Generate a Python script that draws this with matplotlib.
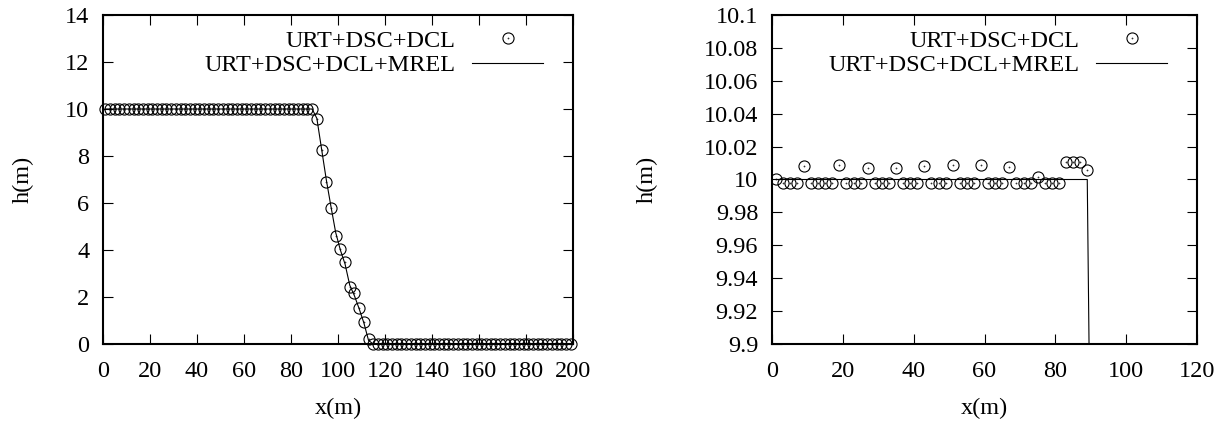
import matplotlib
matplotlib.use("Agg")
import matplotlib.pyplot as plt
import matplotlib.path as mpath
from matplotlib.ticker import FuncFormatter
import numpy as np

# cell centres (dx = 2 m)
x = np.arange(1, 200, 2)

# URT+DSC+DCL (circles)
h_plateau = [10.000, 9.998, 9.998, 9.998, 10.0085,
             9.998, 9.998, 9.998, 9.998, 10.009,
             9.998, 9.998, 9.998, 10.0067,
             9.998, 9.998, 9.998, 10.0071,
             9.998, 9.998, 9.998, 10.008,
             9.998, 9.998, 9.998, 10.0087,
             9.998, 9.998, 9.998, 10.0087,
             9.998, 9.998, 9.998, 10.0077,
             9.998, 9.998, 9.998, 10.0014,
             9.9978, 9.9978, 9.9978,
             10.0107, 10.0107, 10.0107, 10.0059]
h_front = [9.56, 8.26, 6.88, 5.77, 4.60, 4.03, 3.49, 2.41, 2.16, 1.52, 0.95, 0.20]
h_dry = [0.0] * 43
h_dcl = np.array(h_plateau + h_front + h_dry)

# URT+DSC+DCL+MREL (line)
m_plateau = [10.0] * 45
m_front = [9.6, 8.3, 7.0, 5.85, 4.75, 4.0, 3.4, 2.5, 2.05, 1.5, 0.9, 0.15]
m_dry = [0.0] * 43
h_mrel = np.array(m_plateau + m_front + m_dry)

label1 = "URT+DSC+DCL"
label2 = "URT+DSC+DCL+MREL"

plt.rcParams['font.family'] = ['Liberation Serif', 'DejaVu Serif']
fs = 17.5

# circle with a dot in the middle
dotcircle = mpath.Path.make_compound_path(mpath.Path.unit_circle(),
                                          mpath.Path.circle((0, 0), 0.05))

fig = plt.figure(figsize=(12.28, 4.25), dpi=100)
ax1 = fig.add_axes([0.0839, 0.1906, 0.3827, 0.7741])
ax2 = fig.add_axes([0.6287, 0.1906, 0.3461, 0.7741])


def draw(ax, clip):
    ax.plot(x, h_dcl, linestyle='none', marker=dotcircle, markersize=8,
            markerfacecolor='none', markeredgecolor='black',
            markeredgewidth=0.8, label=label1, clip_on=clip, zorder=3)
    ax.plot(x, h_mrel, color='black', linewidth=0.8, label=label2, zorder=2)
    for s in ax.spines.values():
        s.set_linewidth(1.5)
    ax.tick_params(direction='in', length=7, width=0.8, top=True, right=True,
                   labelsize=fs)
    ax.tick_params(axis='x', pad=12)
    ax.tick_params(axis='y', pad=10)
    ax.set_xlabel("x(m)", fontsize=fs)
    ax.set_ylabel("h(m)", fontsize=fs)
    ax.legend(loc='upper right', frameon=False, markerfirst=False,
              borderpad=0, borderaxespad=0, handlelength=2.9,
              handletextpad=0.7, labelspacing=0.1, fontsize=fs)


draw(ax1, False)
ax1.set_xlim(0, 200)
ax1.set_ylim(0, 14)
ax1.set_xticks(np.arange(0, 201, 20))
ax1.set_yticks(np.arange(0, 15, 2))
ax1.xaxis.set_label_coords(0.5, -0.165)
ax1.yaxis.set_label_coords(-0.147, 0.5)
ax1.get_legend().set_bbox_to_anchor((0.936, 0.955), transform=ax1.transAxes)

draw(ax2, True)
ax2.set_xlim(0, 120)
ax2.set_ylim(9.9, 10.1)
ax2.set_xticks(np.arange(0, 121, 20))
ax2.set_yticks(np.linspace(9.9, 10.1, 11))
ax2.yaxis.set_major_formatter(FuncFormatter(lambda v, p: "%g" % round(v, 4)))
ax2.xaxis.set_label_coords(0.5, -0.165)
ax2.yaxis.set_label_coords(-0.268, 0.5)
ax2.get_legend().set_bbox_to_anchor((0.929, 0.955), transform=ax2.transAxes)

fig.savefig("out.png", dpi=100)
